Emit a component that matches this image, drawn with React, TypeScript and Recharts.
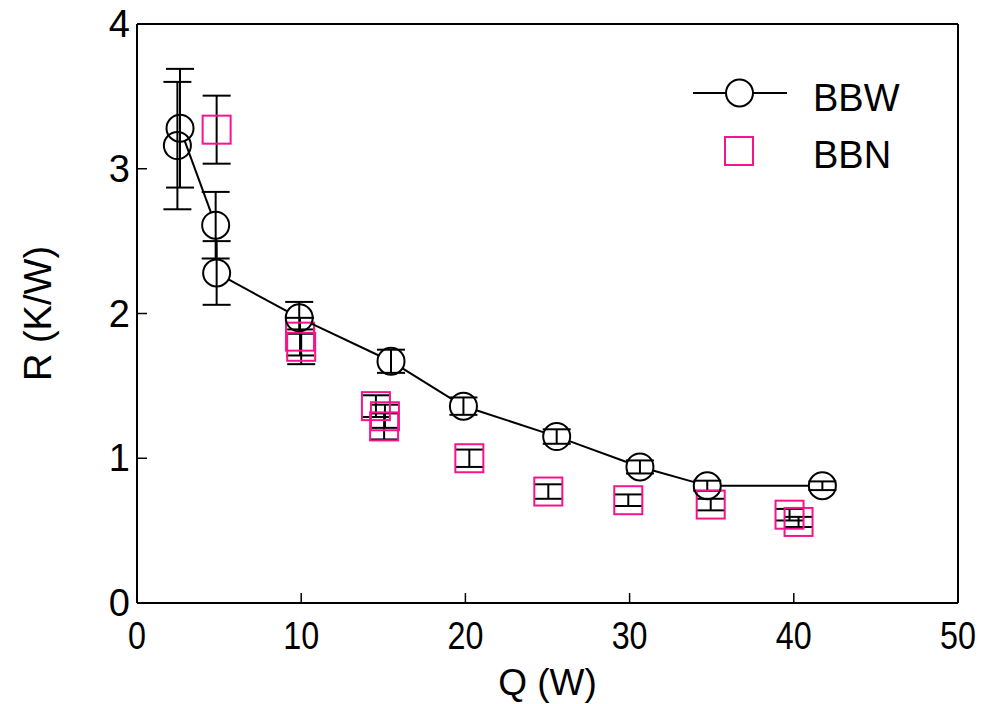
import React from 'react';
import { ErrorBar, Label, Legend, Scatter, ScatterChart, XAxis, YAxis } from 'recharts';

// BBW series (circles, joined)
const bbwQ = [2.46, 2.62, 4.79, 4.85, 9.88, 15.47, 19.88, 25.56, 30.63, 34.73, 41.74];
const bbwR = [3.16, 3.28, 2.61, 2.28, 1.97, 1.67, 1.36, 1.15, 0.94, 0.81, 0.81];
const bbwErr = [0.44, 0.41, 0.23, 0.22, 0.11, 0.08, 0.06, 0.05, 0.045, 0.035, 0.03];

// BBN series (squares, no line)
const bbnQ = [4.85, 9.93, 10.0, 14.55, 15.1, 15.05, 20.24, 25.05, 29.92, 34.94, 39.74, 40.29];
const bbnR = [3.27, 1.84, 1.77, 1.36, 1.29, 1.22, 1.0, 0.77, 0.71, 0.68, 0.61, 0.56];
const bbnErr = [0.235, 0.13, 0.12, 0.075, 0.08, 0.09, 0.06, 0.05, 0.04, 0.04, 0.04, 0.035];

const xTicks = [0, 10, 20, 30, 40, 50];
const yTicks = [0, 1, 2, 3, 4];

const FONT = '"Liberation Sans", Arial, Helvetica, sans-serif';
const PINK = '#F7138C';
const MARK_R = 13.5;
const TICK_LEN = 10;

const bbw = bbwQ.map((q, i) => ({ q, r: bbwR[i], err: bbwErr[i] }));
const bbn = bbnQ.map((q, i) => ({ q, r: bbnR[i], err: bbnErr[i] }));

const CircleMark = (props: any) => (
  <circle cx={props.cx} cy={props.cy} r={MARK_R} fill="none" stroke="#000" strokeWidth={2} />
);

const SquareMark = (props: any) => (
  <rect x={props.cx - 14} y={props.cy - 14} width={28} height={28} fill="none" stroke={PINK} strokeWidth={2} />
);

// joins the points but stops at the edge of each circle
const GappedLine = (props: any) => {
  const pts = props.points || [];
  const segs: React.ReactNode[] = [];
  for (let i = 1; i < pts.length; i++) {
    const a = pts[i - 1];
    const b = pts[i];
    const dx = b.x - a.x;
    const dy = b.y - a.y;
    const d = Math.hypot(dx, dy);
    if (d <= 2 * MARK_R) continue;
    const ux = dx / d;
    const uy = dy / d;
    segs.push(
      <line
        key={i}
        x1={a.x + ux * MARK_R}
        y1={a.y + uy * MARK_R}
        x2={b.x - ux * MARK_R}
        y2={b.y - uy * MARK_R}
        stroke="#000"
        strokeWidth={2}
      />
    );
  }
  return <g>{segs}</g>;
};

const BottomTick = ({ x, y, payload }: any) => (
  <g>
    <line x1={x} x2={x} y1={y} y2={y - TICK_LEN} stroke="#000" strokeWidth={1.5} />
    <text
      x={x}
      y={y + 46}
      textAnchor="middle"
      fontSize={38}
      fontFamily={FONT}
      fill="#000"
      transform={`translate(${x} 0) scale(0.85 1) translate(${-x} 0)`}>
      {payload.value}
    </text>
  </g>
);

const LeftTick = ({ x, y, payload }: any) => (
  <g>
    <line x1={x} x2={x + TICK_LEN} y1={y} y2={y} stroke="#000" strokeWidth={1.5} />
    <text x={x - 7} y={y + 13} textAnchor="end" fontSize={38} fontFamily={FONT} fill="#000">
      {payload.value}
    </text>
  </g>
);

const TopTick = ({ x, y }: any) => (
  <line x1={x} x2={x} y1={y} y2={y + TICK_LEN} stroke="#000" strokeWidth={1.5} />
);

const RightTick = ({ x, y }: any) => (
  <line x1={x} x2={x - TICK_LEN} y1={y} y2={y} stroke="#000" strokeWidth={1.5} />
);

const LegendBox = () => (
  <svg width={260} height={130} style={{ display: 'block' }}>
    <line x1={13} x2={46} y1={33} y2={33} stroke="#000" strokeWidth={2} />
    <line x1={73} x2={107} y1={33} y2={33} stroke="#000" strokeWidth={2} />
    <circle cx={59.5} cy={33} r={MARK_R} fill="none" stroke="#000" strokeWidth={2} />
    <text x={133} y={51} fontSize={38} fontFamily={FONT} fill="#000">
      BBW
    </text>
    <rect x={45} y={77} width={28} height={28} fill="none" stroke={PINK} strokeWidth={2} />
    <text x={133} y={108} fontSize={38} fontFamily={FONT} fill="#000">
      BBN
    </text>
  </svg>
);

const frame = { stroke: '#000', strokeWidth: 2 };

export default function App() {
  return (
    <div style={{ position: 'absolute', left: 0, top: 0, background: '#fff' }}>
      <ScatterChart width={981} height={704} margin={{ top: 23, right: 22, bottom: 41, left: 57 }}>
        <XAxis
          xAxisId="b"
          type="number"
          dataKey="q"
          domain={[0, 50]}
          ticks={xTicks}
          tick={BottomTick}
          tickLine={false}
          tickSize={0}
          tickMargin={0}
          height={60}
          axisLine={frame}>
          <Label
            content={({ viewBox }: any) => (
              <text
                x={viewBox.x + viewBox.width / 2}
                y={viewBox.y + 92}
                textAnchor="middle"
                fontSize={37}
                fontFamily={FONT}
                fill="#000">
                Q (W)
              </text>
            )}
          />
        </XAxis>
        <XAxis
          xAxisId="t"
          orientation="top"
          type="number"
          dataKey="q"
          domain={[0, 50]}
          ticks={xTicks}
          tick={TopTick}
          tickLine={false}
          tickSize={0}
          tickMargin={0}
          height={1}
          axisLine={frame}
        />
        <YAxis
          yAxisId="l"
          type="number"
          dataKey="r"
          domain={[0, 4]}
          ticks={yTicks}
          tick={LeftTick}
          tickLine={false}
          tickSize={0}
          tickMargin={0}
          width={80}
          axisLine={frame}>
          <Label
            content={({ viewBox }: any) => {
              const cx = viewBox.x - 6;
              const cy = viewBox.y + viewBox.height / 2;
              return (
                <text
                  x={cx}
                  y={cy}
                  textAnchor="middle"
                  fontSize={38}
                  fontFamily={FONT}
                  fill="#000"
                  transform={`rotate(-90 ${cx} ${cy})`}>
                  R (K/W)
                </text>
              );
            }}
          />
        </YAxis>
        <YAxis
          yAxisId="r"
          orientation="right"
          type="number"
          dataKey="r"
          domain={[0, 4]}
          ticks={yTicks}
          tick={RightTick}
          tickLine={false}
          tickSize={0}
          tickMargin={0}
          width={1}
          axisLine={frame}
        />
        <Legend
          content={LegendBox}
          layout="horizontal"
          verticalAlign="middle"
          align="center"
          wrapperStyle={{ left: 680, top: 60, width: 260, height: 130 }}
        />
        <Scatter
          name="BBN"
          data={bbn}
          xAxisId="b"
          yAxisId="l"
          shape={SquareMark}
          isAnimationActive={false}>
          <ErrorBar dataKey="err" direction="y" width={14} stroke="#000" strokeWidth={2} />
        </Scatter>
        <Scatter
          name="BBW"
          data={bbw}
          xAxisId="b"
          yAxisId="l"
          shape={CircleMark}
          line={GappedLine}
          lineType="joint"
          isAnimationActive={false}>
          <ErrorBar dataKey="err" direction="y" width={14} stroke="#000" strokeWidth={2} />
        </Scatter>
      </ScatterChart>
    </div>
  );
}
